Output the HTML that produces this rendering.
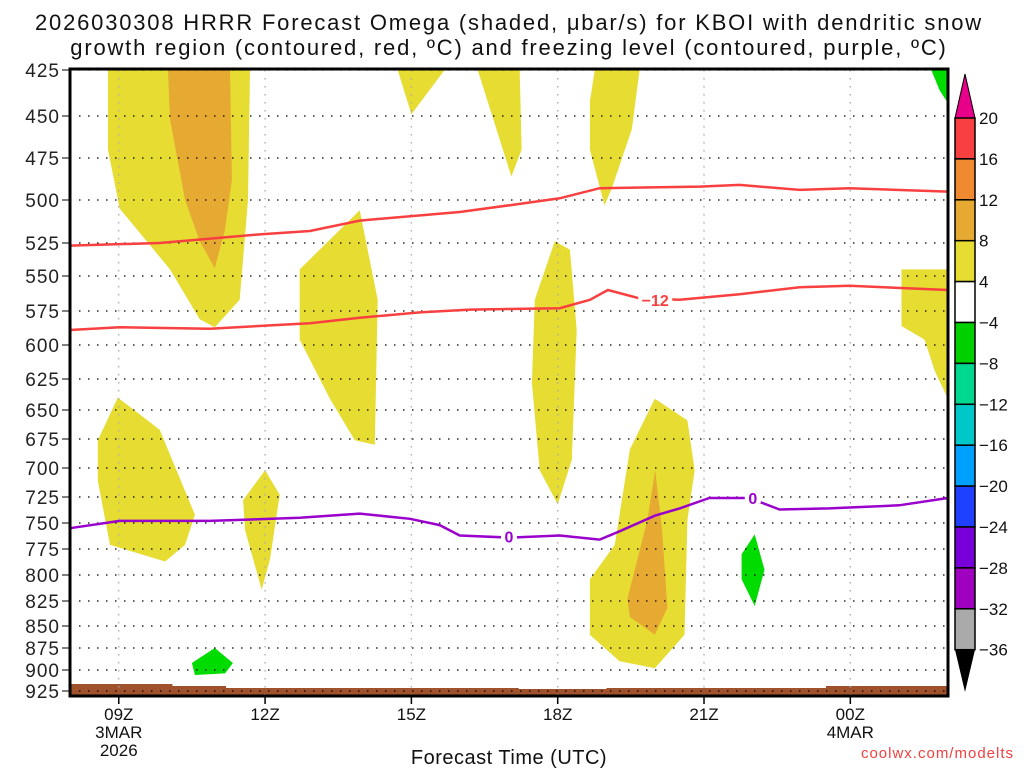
<!DOCTYPE html>
<html><head><meta charset="utf-8"><style>
body{margin:0;background:#fff;width:1024px;height:768px;overflow:hidden}
svg{font-family:"Liberation Sans","DejaVu Sans",sans-serif}
</style></head><body>
<svg id="c" width="1024" height="768">
<g id="title" font-size="22" text-anchor="middle" fill="#111" letter-spacing="1.8">
<text x="509" y="30">2026030308 HRRR Forecast Omega (shaded, μbar/s) for KBOI with dendritic snow</text>
<text x="509" y="55">growth region (contoured, red, ºC) and freezing level (contoured, purple, ºC)</text>
</g>
<g id="shade"></g>
<g id="grid"></g>
<g id="lines"></g>
<rect x="70" y="69" width="878" height="627" fill="none" stroke="#000" stroke-width="3"/>
<g id="yax" font-size="19" fill="#222" text-anchor="end" letter-spacing="1"></g>
<g id="xax" font-size="17" fill="#111" text-anchor="middle"></g>
<text x="509" y="764" font-size="20" text-anchor="middle" fill="#111" letter-spacing="0.5">Forecast Time (UTC)</text>
<text x="1014" y="758" font-size="15" text-anchor="end" fill="#f04040" letter-spacing="1">coolwx.com/modelts</text>
<g id="cbar" font-size="17" fill="#111"></g>
</svg>
<script>
const pressTicks=[425,450,475,500,525,550,575,600,625,650,675,700,725,750,775,800,825,850,875,900,925];
const pressPix=[70,116,158,200,243,276,311,345,379,410,439,468,497,523,549,575,601,626,648,670,691];
const xTickHours=[9,12,15,18,21,24];
const xTickLabels=[["09Z","3MAR","2026"],["12Z"],["15Z"],["18Z"],["21Z"],["00Z","4MAR"]];
const cbLabels=["20","16","12","8","4","−4","−8","−12","−16","−20","−24","−28","−32","−36"];
const cbColors=["#f84040","#f08a30","#e6aa32","#e6dc32","#ffffff","#00d000","#00d890","#00c8c8","#00a0ff","#2040ff","#7800d8","#a000c0","#aaaaaa"];
const YEL="#e6dc32",ORA="#e6aa32",GRN="#00dc00";
const yellowA=[[8.78,425],[11.69,425],[11.65,500],[11.48,567],[10.97,587],[10.66,581],[10.05,545],[9.02,505],[8.78,470]];
const orangeA=[[10.01,425],[11.28,425],[11.32,488],[11.18,517],[10.97,544],[10.66,524],[10.36,500],[10.05,452]];
const yellowB=[[14.72,425],[15.68,425],[15.0,449]];
const yellowC=[[16.36,425],[17.22,425],[17.26,470],[17.05,486],[16.81,464]];
const yellowD=[[18.76,425],[19.68,425],[19.52,458],[19.11,493],[18.96,503],[18.66,470],[18.66,442]];
const yellowE=[[12.71,545],[13.94,506],[14.31,567],[14.25,680],[13.84,676],[13.33,641],[12.71,596]];
const yellowF=[[17.53,567],[17.94,524],[18.25,530],[18.39,589],[18.29,693],[18.0,732],[17.63,702],[17.47,628]];
const yellowG=[[8.57,676],[8.98,640],[9.84,667],[10.56,742],[10.36,771],[9.95,787],[8.82,771],[8.57,711]];
const yellowH=[[11.55,728],[12.0,702],[12.3,723],[12.1,785],[11.93,814],[11.59,757]];
const yellowI=[[18.66,804],[19.17,771],[19.48,684],[19.99,641],[20.66,659],[20.81,702],[20.66,747],[20.6,860],[19.99,898],[19.27,890],[18.66,860]];
const orangeI=[[19.43,823],[19.84,747],[20.0,702],[20.14,757],[20.25,832],[19.99,860],[19.48,841]];
const yellowJ=[[25.05,545],[26,545],[26,641],[25.73,619],[25.52,596],[25.05,586]];
const greenA=[[25.66,425],[26,425],[26,443],[25.83,436]];
const greenB=[[21.77,780],[22.04,761],[22.24,795],[22.04,830],[21.77,804]];
const greenC=[[10.5,892],[10.97,875],[11.34,892],[11.18,904],[10.56,906]];
const redUpperH=[8,9.84,11.89,12.92,13.94,15.99,17.02,18.04,18.86,20.91,21.73,22.96,23.98,26];
const redUpperP=[527,525,520,518,512,507,503,499,493,492,491,494,493,495];
const redLowerH=[8,9.02,10.87,12.92,13.94,15.17,16.2,18.04,18.66,19.03,19.68,20.5,21.73,22.96,23.98,26];
const redLowerP=[589,587,588,584,580,576,574,573,567,560,566,567,563,558,557,560];
const purpH=[8,9.02,10.87,12.71,13.94,14.97,15.58,15.99,17.02,18.04,18.86,19.27,19.99,20.5,21.11,21.93,22.55,23.57,25.0,26];
const purpP=[755,748,748,745,741,746,752,762,764,762,766,758,743,736,726,726,737,736,733,726];
const groundH=[8,10.1,11.2,13,17.2,19.0,23.5,26];
const groundTop=[684,686,688,688,689,688,686,684];

const NS="http://www.w3.org/2000/svg";
function X(h){return 70+(h-8)*48.77;}
function Y(p){for(let i=0;i<pressTicks.length-1;i++){if(p<=pressTicks[i+1]){const f=(p-pressTicks[i])/(pressTicks[i+1]-pressTicks[i]);return pressPix[i]+f*(pressPix[i+1]-pressPix[i]);}}return 696;}
function mk(t,a,parent){const e=document.createElementNS(NS,t);for(const k in a)e.setAttribute(k,a[k]);parent.appendChild(e);return e;}
const shade=document.getElementById('shade');
function poly(pts,col,name){const e=mk('polygon',{points:pts.map(q=>X(q[0]).toFixed(1)+','+Y(q[1]).toFixed(1)).join(' '),fill:col},shade);

}
poly(yellowA,YEL,'omega-region-a');poly(orangeA,ORA,'omega-core-a');
poly(yellowB,YEL,'omega-region-b');poly(yellowC,YEL,'omega-region-c');poly(yellowD,YEL,'omega-region-d');
poly(yellowE,YEL,'omega-region-e');poly(yellowF,YEL,'omega-region-f');poly(yellowG,YEL,'omega-region-g');
poly(yellowH,YEL,'omega-region-h');poly(yellowI,YEL,'omega-region-i');poly(orangeI,ORA,'omega-core-i');
poly(yellowJ,YEL,'omega-region-j');poly(greenA,GRN,'omega-neg-a');poly(greenB,GRN,'omega-neg-b');poly(greenC,GRN,'omega-neg-c');
let gp='70,696 ';for(let i=0;i<groundH.length-1;i++){gp+=X(groundH[i])+','+groundTop[i]+' '+X(groundH[i+1])+','+groundTop[i]+' ';}
gp+='948,'+groundTop[groundTop.length-1]+' 948,696';
const gnd=mk('polygon',{points:gp,fill:'#a0522d'},shade);


const grid=document.getElementById('grid'),yax=document.getElementById('yax'),xax=document.getElementById('xax');
pressTicks.forEach((p,i)=>{const y=Y(p);
mk('line',{x1:70,x2:948,y1:y,y2:y,stroke:'#000','stroke-width':1.3,'stroke-dasharray':'1.5 7.5'},grid);
mk('line',{x1:62,x2:70,y1:y,y2:y,stroke:'#000'},yax);
const t=mk('text',{x:60,y:y+7},yax);t.textContent=p;

});
xTickHours.forEach((h,i)=>{const x=X(h);
mk('line',{x1:x,x2:x,y1:70,y2:696,stroke:'#aaa','stroke-width':1.3,'stroke-dasharray':'1.5 6.5'},grid);
mk('line',{x1:x,x2:x,y1:696,y2:704,stroke:'#000','stroke-width':1.5},xax);
xTickLabels[i].forEach((s,j)=>{const t=mk('text',{x:x,y:720+j*18},xax);t.textContent=s;

});});
const lines=document.getElementById('lines');
function pl(H,P,col,name){const e=mk('polyline',{points:H.map((h,i)=>X(h).toFixed(1)+','+Y(P[i]).toFixed(1)).join(' '),fill:'none',stroke:col,'stroke-width':2.5},lines);

}
pl(redUpperH,redUpperP,'#f84040','dgz-upper-contour');pl(redLowerH,redLowerP,'#f84040','dgz-lower-contour');pl(purpH,purpP,'#9a00cc','freezing-level-contour');
function lab(h,p,s,col,name,w){mk('rect',{x:X(h)-w/2,y:Y(p)-5,width:w,height:10,fill:'#fff'},lines);
const t=mk('text',{x:X(h),y:Y(p)+6,'text-anchor':'middle','font-size':16,'font-weight':'bold',fill:col},lines);t.textContent=s;

}
lab(20.0,567,'−12','#f84040','contour-label-minus12',34);lab(17.0,763,'0','#9a00cc','contour-label-0',16);lab(22.0,726,'0','#9a00cc','contour-label-0b',16);
const cb=document.getElementById('cbar');
const cbTop=118,bh=40.9;
mk('polygon',{points:`955,${cbTop} 975,${cbTop} 965,74`,fill:'#e8008a',stroke:'#000'},cb);
cbColors.forEach((c,i)=>{const r=mk('rect',{x:955,y:cbTop+i*bh,width:20,height:bh,fill:c,stroke:'#000','stroke-width':1.5},cb);

});
const cbBot=cbTop+cbColors.length*bh;
mk('polygon',{points:`955,${cbBot} 975,${cbBot} 965,692`,fill:'#000'},cb);
cbLabels.forEach((s,i)=>{const t=mk('text',{x:979,y:cbTop+i*bh+6},cb);t.textContent=s;

});
</script>
</body></html>
